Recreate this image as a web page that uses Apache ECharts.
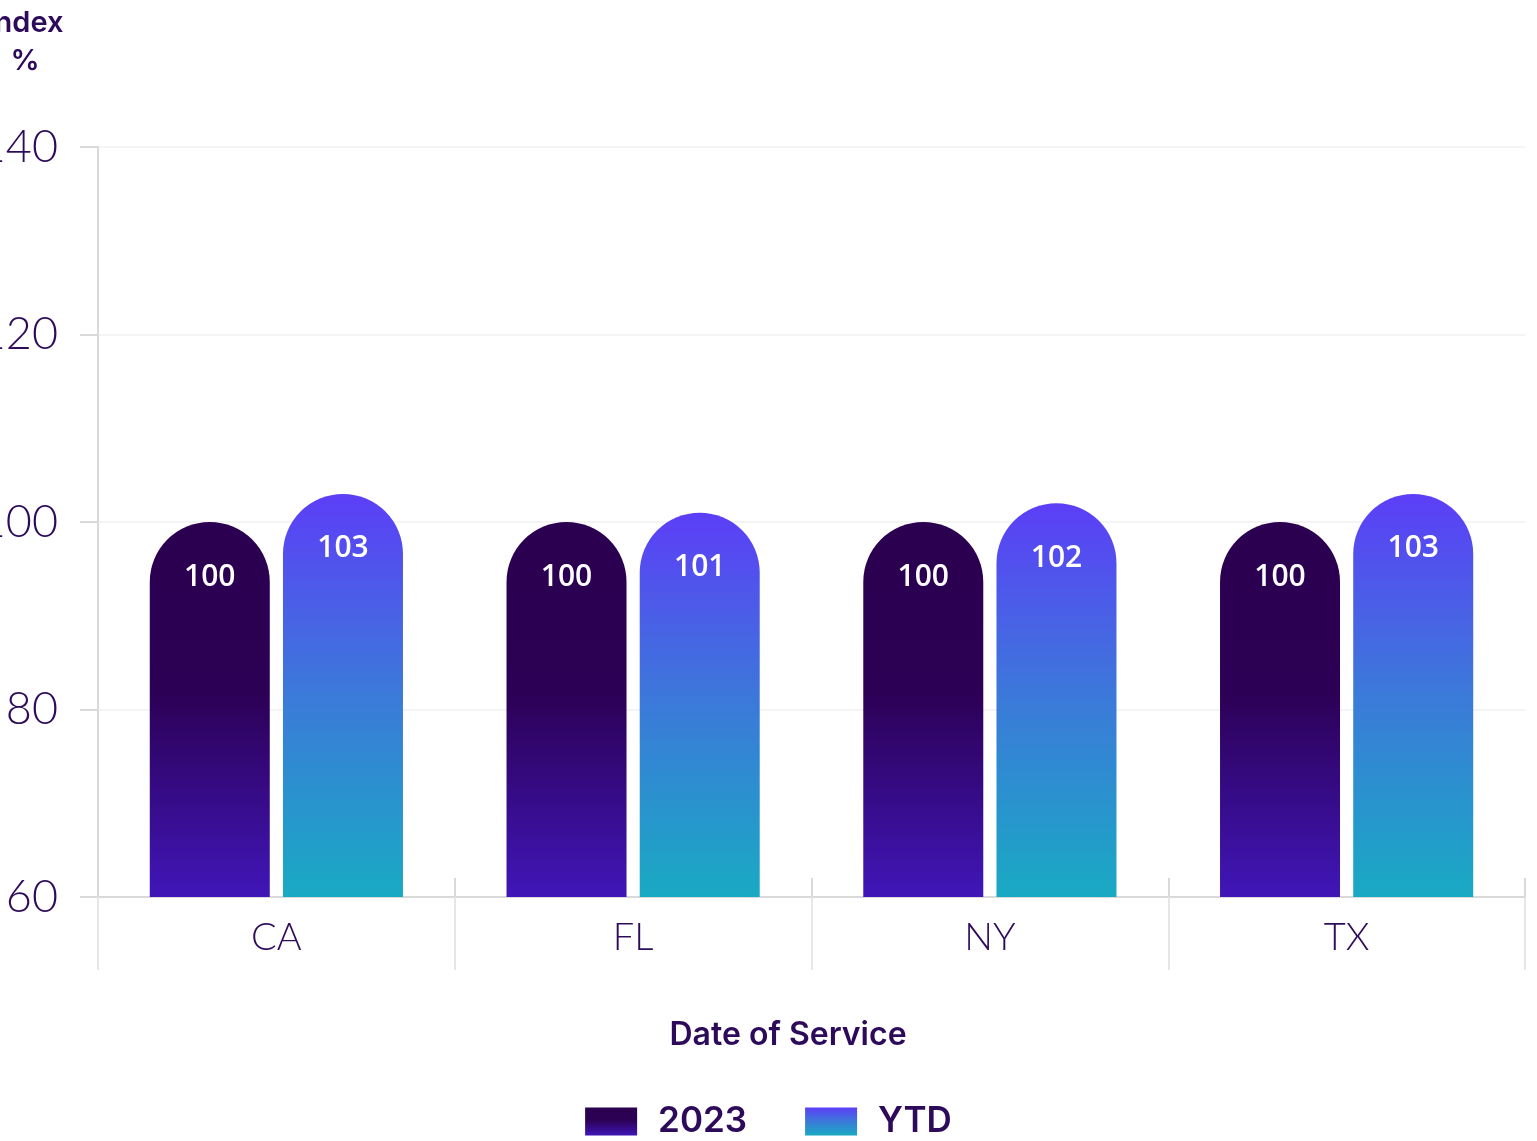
<!DOCTYPE html>
<html>
<head>
<meta charset="utf-8">
<script src="https://cdn.jsdelivr.net/npm/echarts@6/dist/echarts.min.js"></script>
<style>
  html, body { margin: 0; padding: 0; background: #fff; }
  #chart { width: 1537px; height: 1141px; }
</style>
</head>
<body>
<div id="chart"></div>
<script>
const states = ["CA", "FL", "NY", "TX"];
const values2023 = [100, 100, 100, 100];
const valuesYtd = [103, 101, 102, 103];
const yTicks = { min: 60, max: 140, interval: 20 };

const ink = "#2d0b5a";
const lineGray = "#d9d9d9";

const chart = echarts.init(document.getElementById("chart"));

function vGradient(stops) {
  return new echarts.graphic.LinearGradient(0, 0, 0, 1,
    stops.map(([offset, color]) => ({ offset, color })));
}

const barLabel = {
  show: true,
  position: "insideTop",
  distance: 40,
  color: "#fff",
  fontSize: 30,
  fontWeight: 600,
  fontFamily: "Open Sans",
};

chart.setOption({
  animation: false,
  title: [
    {
      text: "Index\n%",
      left: 20,
      top: -1,
      textAlign: "center",
      textStyle: { color: ink, fontSize: 29, fontWeight: 600, fontFamily: "Inter", lineHeight: 38 },
    },
    {
      text: "Date of Service",
      left: 783,
      top: 1014,
      textAlign: "center",
      textStyle: { color: ink, fontSize: 32, fontWeight: 600, fontFamily: "Inter" },
    },
  ],
  legend: {
    bottom: -3,
    left: "center",
    icon: "rect",
    itemWidth: 52,
    itemHeight: 28,
    itemGap: 58,
    textStyle: { color: ink, fontSize: 35, fontWeight: 600, fontFamily: "Inter", padding: [0, 0, 0, 16] },
    data: ["2023", "YTD"],
  },
  grid: { left: 98, right: 12, top: 147, bottom: 244, containLabel: false, outerBoundsMode: "none" },
  xAxis: [
    {
      type: "category",
      position: "bottom",
      data: states,
      axisLine: { lineStyle: { color: lineGray, width: 2 } },
      axisTick: { show: true, inside: true, length: 19, lineStyle: { color: lineGray, width: 2 } },
      axisLabel: { color: ink, fontSize: 38, fontFamily: "Lato", fontWeight: 300, margin: 22 },
    },
    {
      type: "category",
      position: "bottom",
      data: states,
      axisLine: { show: false },
      axisTick: { show: true, length: 73, lineStyle: { color: "#e6e6e6", width: 2 } },
      axisLabel: { show: false },
    },
  ],
  yAxis: {
    type: "value",
    min: yTicks.min,
    max: yTicks.max,
    interval: yTicks.interval,
    axisLine: { show: true, lineStyle: { color: lineGray, width: 2 } },
    axisTick: { show: true, length: 18, lineStyle: { color: lineGray, width: 2 } },
    axisLabel: { color: ink, fontSize: 45, fontFamily: "Lato", fontWeight: 300, margin: 40, padding: [6, 0, 0, 0] },
    splitLine: { lineStyle: { color: "#f1f1f1", width: 1.5 } },
  },
  series: [
    {
      name: "2023",
      type: "bar",
      xAxisIndex: 0,
      data: values2023,
      barWidth: 120,
      barGap: "11%",
      label: barLabel,
      itemStyle: {
        borderRadius: [60, 60, 0, 0],
        color: vGradient([[0, "#2b0050"], [0.45, "#2c0054"], [1, "#4016b8"]]),
      },
    },
    {
      name: "YTD",
      type: "bar",
      xAxisIndex: 0,
      data: valuesYtd,
      barWidth: 120,
      label: barLabel,
      itemStyle: {
        borderRadius: [60, 60, 0, 0],
        color: vGradient([[0, "#5c3ef7"], [0.5, "#3b7ad9"], [1, "#19aac3"]]),
      },
    },
  ],
});

window.addEventListener("resize", () => chart.resize());
</script>
</body>
</html>
